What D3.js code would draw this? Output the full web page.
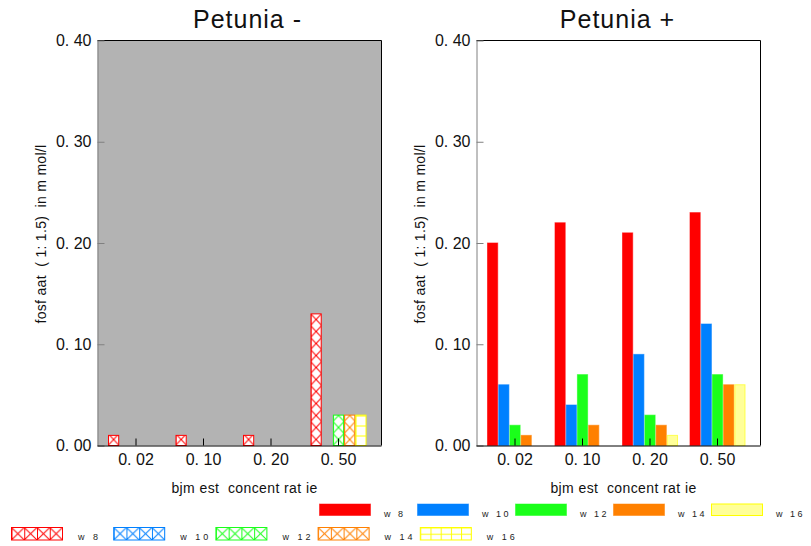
<!DOCTYPE html>
<html>
<head>
<meta charset="utf-8">
<script src="https://cdn.jsdelivr.net/npm/d3@7"></script>
<style>
  body { margin: 0; background: #fff; }
  svg { display: block; font-family: "Liberation Sans", Arial, sans-serif; }
  .pre { white-space: pre; }
</style>
</head>
<body>
<svg id="chart" width="811" height="546"></svg>
<script>
// Fertiliser concentrations on the x axis
const concentrations = ["0. 02", "0. 10", "0. 20", "0. 50"];
// Sampling weeks (series)
const weeks = ["w 8", "w 10", "w 12", "w 14", "w 16"];
const weekStroke = ["#ff0000", "#0080ff", "#1aff1a", "#ff8000", "#ffff00"];
const weekFill = ["#ff0000", "#0080ff", "#1aff1a", "#ff8000", "#ffff99"];

// Phosphate (1:1.5) in mmol/l, without petunia
const minusW8  = [0.01, 0.01, 0.01, 0.13];
const minusW10 = [0.00, 0.00, 0.00, 0.00];
const minusW12 = [0.00, 0.00, 0.00, 0.03];
const minusW14 = [0.00, 0.00, 0.00, 0.03];
const minusW16 = [0.00, 0.00, 0.00, 0.03];

// Phosphate (1:1.5) in mmol/l, with petunia
const plusW8  = [0.20, 0.22, 0.21, 0.23];
const plusW10 = [0.06, 0.04, 0.09, 0.12];
const plusW12 = [0.02, 0.07, 0.03, 0.07];
const plusW14 = [0.01, 0.02, 0.02, 0.06];
const plusW16 = [0.00, 0.00, 0.01, 0.06];

const yTicks = [0, 0.1, 0.2, 0.3, 0.4];
const yTickLabels = ["0. 00", "0. 10", "0. 20", "0. 30", "0. 40"];

const svg = d3.select("#chart");
const defs = svg.append("defs");

const TOP = 40.5, BOTTOM = 445.5, PW = 284;
const y = d3.scaleLinear().domain([0, 0.4]).range([BOTTOM, TOP]);

// hatch pattern: "cross" = diagonals + vertical edge, "grid" = horizontal + vertical lines
function hatch(id, x0, y0, w, h, color, kind) {
  const p = defs.append("pattern")
    .attr("id", id).attr("patternUnits", "userSpaceOnUse")
    .attr("x", x0).attr("y", y0).attr("width", w).attr("height", h);
  p.append("rect").attr("width", w).attr("height", h).attr("fill", "#fff");
  const line = (a, b, c, d) => p.append("line")
    .attr("x1", a).attr("y1", b).attr("x2", c).attr("y2", d)
    .attr("stroke", color).attr("stroke-width", 1);
  if (kind === "cross") {
    line(0, 0, w, h); line(w, 0, 0, h); line(0.5, 0, 0.5, h);
  } else {
    line(0, 0.5, w, 0.5); line(0.5, 0, 0.5, h);
  }
  return `url(#${id})`;
}

function panel(key, L, title, titleDx, series, hatched, bg) {
  const g = svg.append("g");
  g.append("rect").attr("x", L).attr("y", TOP).attr("width", PW).attr("height", BOTTOM - TOP)
    .attr("fill", bg);

  const x0 = d3.scaleBand().domain(concentrations)
    .range([L + 4.76, L + 274.76]).paddingInner(0.17).paddingOuter(0.085);
  const x1 = d3.scaleBand().domain(weeks).range([0, x0.bandwidth()]);

  concentrations.forEach((c, i) => {
    weeks.forEach((w, j) => {
      const v = series[j][i];
      const bx = x0(c) + x1(w), bw = x1.bandwidth();
      const by = y(v), bh = BOTTOM - y(v);
      let fill = weekFill[j];
      if (hatched) {
        fill = j === 4
          ? hatch(`h${key}${i}${j}`, bx, BOTTOM, bw, 10, weekStroke[j], "grid")
          : hatch(`h${key}${i}${j}`, bx, BOTTOM, bw, 12, weekStroke[j], "cross");
      }
      g.append("rect")
        .attr("x", bx + 0.5).attr("y", by)
        .attr("width", bw - 1).attr("height", bh)
        .attr("fill", fill)
        .attr("stroke", weekStroke[j]).attr("stroke-width", 1)
        .attr("stroke-opacity", hatched ? 1 : 0.6);
    });
  });

  // frame top and right
  g.append("line").attr("x1", L).attr("x2", L + PW).attr("y1", TOP).attr("y2", TOP)
    .attr("stroke", "#000");
  g.append("line").attr("x1", L + PW).attr("x2", L + PW).attr("y1", TOP).attr("y2", BOTTOM)
    .attr("stroke", "#000");

  const yAxis = g.append("g").attr("transform", `translate(${L},0)`)
    .call(d3.axisLeft(y).tickValues(yTicks)
      .tickFormat((d, i) => yTickLabels[i]).tickSizeInner(-7).tickSizeOuter(0).tickPadding(6));
  yAxis.select(".domain").attr("stroke", "#808080");
  yAxis.selectAll(".tick line").attr("stroke", "#808080");
  yAxis.selectAll("text").attr("font-size", 16).attr("fill", "#111")
    .attr("font-family", "'Liberation Sans', Arial, sans-serif");

  const xAxis = g.append("g").attr("transform", `translate(0,${BOTTOM})`)
    .call(d3.axisBottom(x0).tickSizeInner(-7).tickSizeOuter(0).tickPadding(8));
  xAxis.select(".domain").attr("stroke", "#000").attr("d", `M${L},0.5H${L + PW}`);
  xAxis.selectAll(".tick line").attr("stroke", "#000");
  xAxis.selectAll("text").attr("font-size", 16).attr("fill", "#111")
    .attr("font-family", "'Liberation Sans', Arial, sans-serif");

  g.append("text").attr("x", L + PW / 2 + titleDx).attr("y", 28)
    .attr("text-anchor", "middle").attr("font-size", 25).attr("letter-spacing", 1)
    .attr("fill", "#111").text(title);

  g.append("text").attr("class", "pre").attr("x", L + PW / 2 + 5).attr("y", 493)
    .attr("text-anchor", "middle").attr("font-size", 14).attr("letter-spacing", 0.4)
    .attr("fill", "#111")
    .text("bjm est  concent rat ie");

  g.append("text").attr("class", "pre")
    .attr("transform", `translate(${L - 52},234) rotate(-90)`)
    .attr("text-anchor", "middle").attr("font-size", 14).attr("letter-spacing", 0.3)
    .attr("fill", "#111")
    .text("fosf aat  ( 1: 1.5)  in m mol/l");
}

panel("m", 97.5, "Petunia -", 8,
  [minusW8, minusW10, minusW12, minusW14, minusW16], true, "#b3b3b3");
panel("p", 476.5, "Petunia +", -1,
  [plusW8, plusW10, plusW12, plusW14, plusW16], false, "#ffffff");

// legend: solid fills (with petunia)
const leg1 = svg.append("g");
weeks.forEach((w, j) => {
  const lx = 319 + j * 98;
  leg1.append("rect").attr("x", lx + 0.5).attr("y", 504).attr("width", 51).attr("height", 11.5)
    .attr("fill", weekFill[j]).attr("stroke", weekStroke[j]).attr("stroke-opacity", j === 4 ? 1 : 0.5);
  leg1.append("text").attr("x", lx + 65).attr("y", 517).attr("font-size", 9)
    .attr("letter-spacing", 2.5).attr("fill", "#222").text(w);
});

// legend: hatched fills (without petunia)
const leg2 = svg.append("g");
weeks.forEach((w, j) => {
  const lx = 11 + j * 102.2;
  const fill = j === 4
    ? hatch(`lg${j}`, lx + 0.5, 527.5, 10.2, 6.2, weekStroke[j], "grid")
    : hatch(`lg${j}`, lx + 0.5, 527.5, 12.75, 12.5, weekStroke[j], "cross");
  leg2.append("rect").attr("x", lx + 0.5).attr("y", 527.5).attr("width", 51).attr("height", 12.5)
    .attr("fill", fill).attr("stroke", weekStroke[j]);
  leg2.append("text").attr("x", lx + 67).attr("y", 540).attr("font-size", 9)
    .attr("letter-spacing", 3).attr("fill", "#222").text(w);
});
</script>
</body>
</html>
